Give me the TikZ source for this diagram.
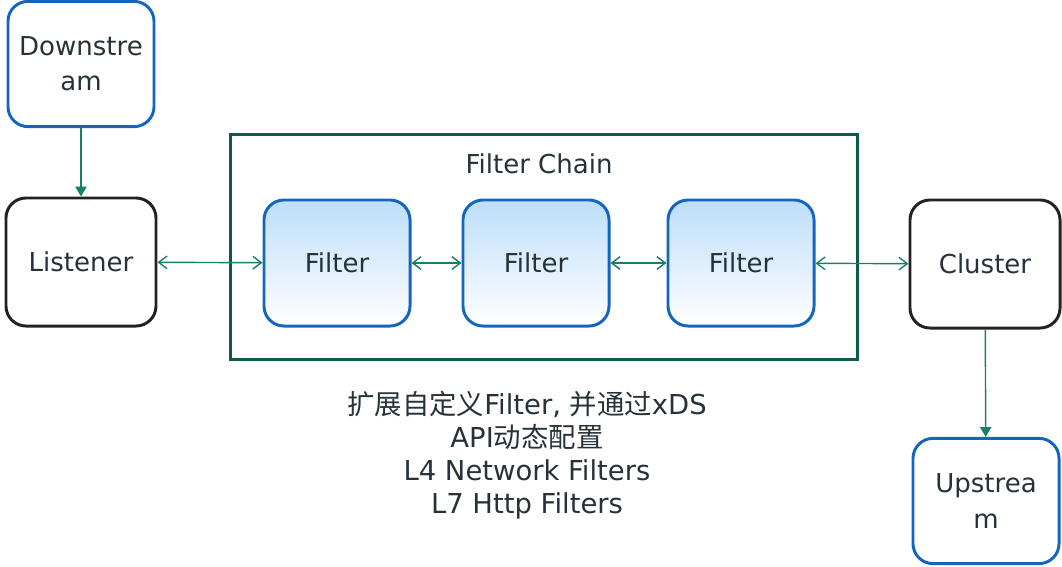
\documentclass[tikz,border=0pt]{standalone}
\usepackage{fontspec}
\setmainfont{DejaVu Sans}
\newfontfamily\cjk{Noto Sans CJK SC}
\usepackage{tikz}
\usetikzlibrary{arrows.meta,positioning,calc}
\definecolor{envBlue}{HTML}{1565C0}
\definecolor{envDark}{HTML}{222222}
\definecolor{chainGreen}{HTML}{0D5A4B}
\definecolor{linkTeal}{HTML}{18806A}
\definecolor{fltBlue}{HTML}{BDDEFA}
\definecolor{txt}{HTML}{263238}

\begin{document}
\begin{tikzpicture}[x=0.025cm,y=-0.025cm,
    box/.style={draw,line width=2.1pt,rounded corners=0.5cm,align=center,text=txt,font=\fontsize{18.5}{25}\selectfont},
    ends/.style={box,draw=envBlue,minimum width=3.65cm,minimum height=3.13cm},
    core/.style={box,draw=envDark,minimum width=3.75cm,minimum height=3.2cm},
    flt/.style={box,draw=envBlue,minimum width=3.65cm,minimum height=3.15cm,top color=fltBlue,middle color=fltBlue,bottom color=white},
    arr/.style={-{Triangle[width=8pt,length=7pt]},linkTeal,line width=1pt},
    dbl/.style={{Straight Barb[width=9pt,length=6pt]}-{Straight Barb[width=9pt,length=6pt]},linkTeal,line width=1pt}]
    \useasboundingbox (0,0) rectangle (1062,566);
    \node[draw=chainGreen,line width=2.1pt,minimum width=15.65cm,minimum height=5.6cm] (chain) at (544,247) {};
    \node[text=txt,font=\fontsize{18.5}{25}\selectfont] (chainl) at (539,164) {Filter Chain};
    \node[ends] (down) at (81,64) {Downstre\\am};
    \node[core] (lis) at (81,262) {Listener};
    \node[flt] (f1) at (337,263) {Filter};
    \node[flt] (f2) at (536,263) {Filter};
    \node[flt] (f3) at (741,263) {Filter};
    \node[core] (clu) at (985,264) {Cluster};
    \node[ends] (up) at (986,501) {Upstrea\\m};
    \draw[arr] (down)--(lis);
    \draw[arr] (clu)--(up);
    \draw[dbl] (lis)--(f1);
    \draw[dbl] (f1)--(f2);
    \draw[dbl] (f2)--(f3);
    \draw[dbl] (f3)--(clu);
    \node[text=txt,font=\fontsize{19.5}{23.4}\selectfont,align=center] (note) at (527,455) {{\cjk 扩展自定义}Filter, {\cjk 并通过}xDS\\API{\cjk 动态配置}\\L4 Network Filters\\L7 Http Filters};
  \end{tikzpicture}
\end{document}
